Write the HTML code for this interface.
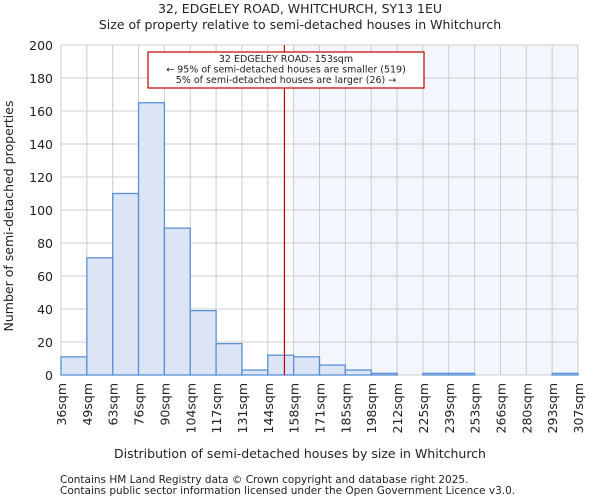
<!DOCTYPE html>
<html><head><meta charset="utf-8"><style>
body{margin:0;background:#fff;font-family:"DejaVu Sans","Liberation Sans",sans-serif;}
svg text{font-family:"DejaVu Sans","Liberation Sans",sans-serif;fill:#222;}
</style></head><body>
<svg id="chart" width="600" height="500" viewBox="0 0 600 500" xmlns="http://www.w3.org/2000/svg">
<text x="300" y="13" text-anchor="middle" font-size="12.5">32, EDGELEY ROAD, WHITCHURCH, SY13 1EU</text>
<text x="300" y="29" text-anchor="middle" font-size="12.5">Size of property relative to semi-detached houses in Whitchurch</text>
<g id="plot"></g>
<text x="300" y="458" text-anchor="middle" font-size="12.5">Distribution of semi-detached houses by size in Whitchurch</text>
<text transform="translate(13,216) rotate(-90)" text-anchor="middle" font-size="12.5">Number of semi-detached properties</text>
<text x="60" y="483" font-size="10.5" fill="#555">Contains HM Land Registry data © Crown copyright and database right 2025.</text>
<text x="60" y="494" font-size="10.5" fill="#555">Contains public sector information licensed under the Open Government Licence v3.0.</text>
</svg>
<script>
const binLabels=["36sqm","49sqm","63sqm","76sqm","90sqm","104sqm","117sqm","131sqm","144sqm","158sqm","171sqm","185sqm","198sqm","212sqm","225sqm","239sqm","253sqm","266sqm","280sqm","293sqm","307sqm"];
const binEdges=[36,49,63,76,90,104,117,131,144,158,171,185,198,212,225,239,253,266,280,293,307];
const counts=[11,71,110,165,89,39,19,3,12,11,6,3,1,0,1,1,0,0,0,1];
const yTicks=[0,20,40,60,80,100,120,140,160,180,200];
const propertySize=153;
const NS="http://www.w3.org/2000/svg";
const g=document.getElementById('plot');
const X0=61,X1=578,Y0=375,Y1=45,YMAX=200;
const bw=(X1-X0)/counts.length;
function xi(i){return X0+i*bw;}
function xv(v){let i=0;while(i<binEdges.length-2&&v>binEdges[i+1])i++;return xi(i)+(v-binEdges[i])/(binEdges[i+1]-binEdges[i])*bw;}
function y(v){return Y0-(v/YMAX)*(Y0-Y1);}
function el(t,a){const e=document.createElementNS(NS,t);for(const k in a)e.setAttribute(k,a[k]);g.appendChild(e);return e;}
const pi=binEdges.findIndex((e,i)=>propertySize>=e&&propertySize<binEdges[i+1]);
const sh=el('rect',{x:xi(pi+1),y:Y1,width:X1-xi(pi+1),height:Y0-Y1,fill:'#f3f6fd'});


yTicks.forEach(t=>{const l=el('line',{x1:X0,x2:X1,y1:y(t),y2:y(t),stroke:'#cccccc'});


const tx=el('text',{x:X0-8,y:y(t)+5,'text-anchor':'end','font-size':'12.5'});tx.textContent=t;

});
binLabels.forEach((lb,i)=>{const l=el('line',{x1:xi(i),x2:xi(i),y1:Y1,y2:Y0,stroke:'#cccccc'});


const tx=el('text',{transform:`translate(${xi(i)+5},${Y0+8}) rotate(-90)`,'text-anchor':'end','font-size':'12.5'});tx.textContent=lb;

});
counts.forEach((c,i)=>{const r=el('rect',{x:xi(i),y:y(c),width:bw,height:Y0-y(c),fill:'#dce5f5',stroke:'#5b8fd6','stroke-width':1.3});

});
const ml=el('line',{x1:xv(propertySize),x2:xv(propertySize),y1:Y1,y2:Y0,stroke:'#c00000','stroke-width':1.2});


const bx=el('rect',{x:148,y:52,width:276,height:36,fill:'#fff',stroke:'#c00000','stroke-width':1.2});


["32 EDGELEY ROAD: 153sqm","← 95% of semi-detached houses are smaller (519)","5% of semi-detached houses are larger (26) →"].forEach((s,k)=>{
const t=el('text',{x:286,y:62+k*10.5,'text-anchor':'middle','font-size':'9.5'});t.textContent=s;

});
const ax=el('rect',{x:X0,y:Y1,width:X1-X0,height:Y0-Y1,fill:'none',stroke:'none'});


</script>
</body></html>
